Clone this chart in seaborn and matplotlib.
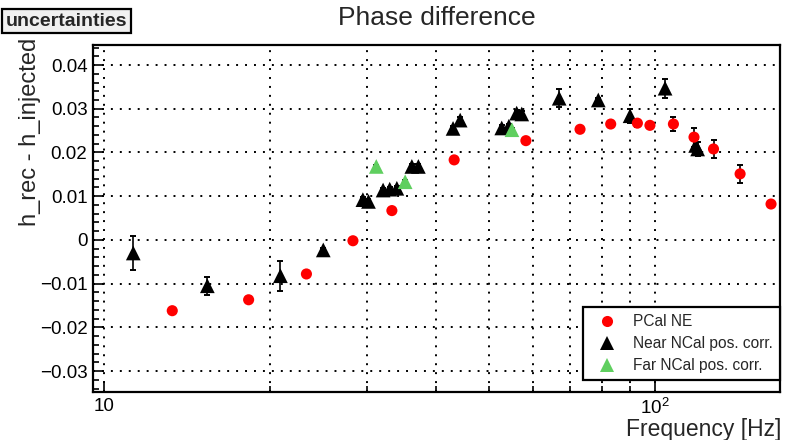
import seaborn as sns
import matplotlib.pyplot as plt
import matplotlib.ticker as mticker
from matplotlib.lines import Line2D
import pandas as pd

# values
pcal_freq = [13.3, 18.3, 23.3, 28.3, 33.3, 43.2, 58.3, 73.1, 83.1, 92.9, 97.9, 108.0, 117.7, 127.7, 142.7, 162.4]
pcal_val = [-0.0162, -0.0137, -0.0078, -0.0002, 0.0067, 0.0183, 0.0227, 0.0253, 0.0265, 0.0267, 0.0262, 0.0265, 0.0235, 0.0208, 0.0151, 0.0082]
pcal_err = [0.0004, 0.0004, 0.0004, 0.0004, 0.0004, 0.0005, 0.0005, 0.0005, 0.0006, 0.0008, 0.0006, 0.0015, 0.0022, 0.0021, 0.0021, 0.0005]

near_freq = [11.3, 15.4, 20.9, 25.0, 29.5, 30.2, 32.1, 33.0, 34.0, 36.2, 37.2, 43.0, 44.3, 52.7, 54.3, 56.1, 57.3, 67.0, 78.9, 90.1, 104.3, 118.5, 119.5]
near_val = [-0.0030, -0.0105, -0.0082, -0.0023, 0.0092, 0.0088, 0.0114, 0.0116, 0.0118, 0.0168, 0.0168, 0.0255, 0.0274, 0.0256, 0.0260, 0.0290, 0.0288, 0.0324, 0.0320, 0.0284, 0.0347, 0.0216, 0.0208]
near_err = [0.0038, 0.0021, 0.0034, 0.0005, 0.0005, 0.0005, 0.0005, 0.0005, 0.0005, 0.0005, 0.0005, 0.0006, 0.0006, 0.0006, 0.0006, 0.0006, 0.0006, 0.0021, 0.0005, 0.0016, 0.0022, 0.0015, 0.0015]

far_freq = [31.2, 35.2, 55.0]
far_val = [0.0168, 0.0133, 0.0252]
far_err = [0.0004, 0.0004, 0.0004]

series_names = ["PCal NE", "Near NCal pos. corr.", "Far NCal pos. corr."]
colors = {"PCal NE": "#ff0000", "Near NCal pos. corr.": "#000000", "Far NCal pos. corr.": "#5fcf5f"}
markers = {"PCal NE": "o", "Near NCal pos. corr.": "^", "Far NCal pos. corr.": "^"}

y_ticks = [-0.03, -0.02, -0.01, 0, 0.01, 0.02, 0.03, 0.04]
y_ticklabels = ["\u22120.03", "\u22120.02", "\u22120.01", "0", "0.01", "0.02", "0.03", "0.04"]
x_ticks = [10, 100]
x_ticklabels = ["10", "$\\mathregular{10^{2}}$"]

sns.set_style("ticks")
plt.rcParams["font.family"] = ["Liberation Sans", "DejaVu Sans"]

# draw order: black first, then green, then red on top
df = pd.concat([
    pd.DataFrame({"freq": near_freq, "val": near_val, "err": near_err, "src": series_names[1]}),
    pd.DataFrame({"freq": far_freq, "val": far_val, "err": far_err, "src": series_names[2]}),
    pd.DataFrame({"freq": pcal_freq, "val": pcal_val, "err": pcal_err, "src": series_names[0]}),
], ignore_index=True)

fig = plt.figure(figsize=(7.88, 4.40), dpi=100)
ax = fig.add_axes([93 / 788, 1 - 392 / 440, 687 / 788, 347 / 440])

for i, name in enumerate([series_names[1], series_names[2], series_names[0]]):
    sub = df[df["src"] == name]
    ax.errorbar(sub["freq"], sub["val"], yerr=sub["err"], fmt="none", ecolor="black",
                elinewidth=1.2, capsize=2.2, capthick=1.4, zorder=3 + i)
    sns.scatterplot(data=sub, x="freq", y="val", color=colors[name], marker=markers[name],
                    s=64 if name == "PCal NE" else 112, edgecolor="none", linewidth=0,
                    ax=ax, legend=False, zorder=3.5 + i)

ax.set_xscale("log")
ax.set_xlim(9.55, 168.6)
ax.set_ylim(-0.0348, 0.04458)

ax.xaxis.set_major_locator(mticker.FixedLocator(x_ticks))
ax.xaxis.set_major_formatter(mticker.FixedFormatter(x_ticklabels))
ax.xaxis.set_minor_locator(mticker.LogLocator(base=10, subs=range(2, 10)))
ax.xaxis.set_minor_formatter(mticker.NullFormatter())
ax.set_yticks(y_ticks)
ax.set_yticklabels(y_ticklabels)
ax.yaxis.set_minor_locator(mticker.MultipleLocator(0.002))

ax.tick_params(which="both", direction="in", width=1.2, top=False, right=False, labelsize=13.5, colors="black")
ax.tick_params(which="major", length=8)
ax.tick_params(which="minor", length=4.5)
ax.tick_params(axis="x", pad=4)
ax.tick_params(axis="y", pad=4)

grid_kw = dict(color="black", linewidth=1.4, linestyle=(0, (1, 3.6)))
ax.xaxis.grid(True, which="both", **grid_kw)
ax.yaxis.grid(True, which="major", **grid_kw)
ax.set_axisbelow(True)
for sp in ax.spines.values():
    sp.set_linewidth(1.6)
    sp.set_color("black")

ax.set_xlabel("")
ax.set_ylabel("")
fig.text(781 / 788, 1 - 435.5 / 440, "Frequency [Hz]", ha="right", va="baseline", fontsize=16.5)
fig.text(30 / 788, 1 - 38 / 440, "h_rec - h_injected", rotation=90, ha="center", va="top", fontsize=17)
fig.text(437 / 788, 1 - 18 / 440, "Phase difference", ha="center", va="center", fontsize=19)
fig.text(127 / 788, 1 - 21 / 440, "uncertainties", ha="right", va="center", fontsize=14, fontweight="bold",
         bbox=dict(boxstyle="square,pad=0.2", facecolor="#f0f0f0", edgecolor="black", linewidth=1.6))

handles = [Line2D([], [], linestyle="none", marker=markers[n], color=colors[n],
                  markersize=8 if n == "PCal NE" else 10.5, markeredgewidth=0) for n in series_names]
leg = ax.legend(handles, series_names, loc="lower right", bbox_to_anchor=(1.0, 0.0346),
                borderaxespad=0, fontsize=11.2, frameon=True, fancybox=False, framealpha=1,
                handlelength=2.2, handletextpad=0.58, borderpad=0.45, labelspacing=0.45)
leg.get_frame().set_edgecolor("black")
leg.get_frame().set_linewidth(1.6)
leg.set_zorder(10)

fig.savefig("out.png", dpi=100)
